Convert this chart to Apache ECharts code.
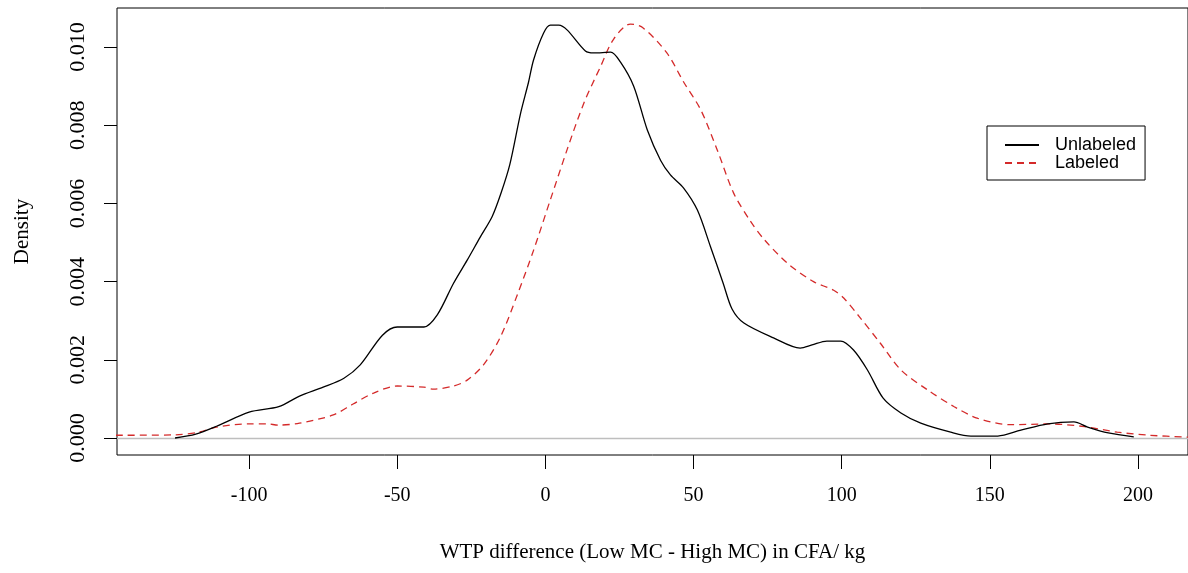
<!DOCTYPE html>
<html>
<head>
<meta charset="utf-8">
<script src="https://cdn.jsdelivr.net/npm/echarts@6/dist/echarts.min.js"></script>
<style>
  html, body { margin: 0; padding: 0; background: #fff; }
  #chart { width: 1188px; height: 573px; }
</style>
</head>
<body>
<div id="chart"></div>
<script>
// density estimates: [x, density]
const unlabeled = [
  [-125, 0.0000], [-118, 0.0001], [-111, 0.0003], [-100, 0.00066], [-90, 0.0008],
  [-83, 0.00107], [-75, 0.0013], [-68, 0.00153], [-62.5, 0.00187], [-55, 0.00263],
  [-50, 0.00284], [-41, 0.00284], [-36.5, 0.00315], [-31, 0.00396], [-26.4, 0.00455],
  [-22, 0.00514], [-18, 0.00566], [-15, 0.00626], [-12, 0.0070], [-8.4, 0.0083],
  [-5.7, 0.0091], [-4, 0.00967], [-0.6, 0.01036], [1.7, 0.01056], [4.5, 0.01056],
  [7.3, 0.01044], [13.5, 0.0099], [16.3, 0.00985], [22, 0.00987], [25.3, 0.00962],
  [29.8, 0.0090], [34.4, 0.00788], [38.9, 0.0071], [42.2, 0.00673], [46.6, 0.0064],
  [51.3, 0.00583], [55.7, 0.0049], [60, 0.00396], [63, 0.0033], [67, 0.00294],
  [77, 0.00256], [86, 0.0023], [90, 0.00238], [95, 0.00248], [99.7, 0.00248],
  [104, 0.00225], [108.7, 0.00174], [114, 0.00102], [120, 0.00064], [126.7, 0.00038],
  [136.8, 0.00015], [143.6, 0.00005], [152.7, 0.00005], [160.5, 0.0002], [169.6, 0.00036],
  [178.4, 0.00041], [183, 0.00028], [190, 0.00013], [198.6, 0.00003]
];
const labeled = [
  [-145, 0.00007], [-125, 0.00008], [-117, 0.00015], [-111, 0.00028], [-100, 0.00036],
  [-94, 0.00036], [-90, 0.00033], [-83, 0.00038], [-71.6, 0.00059], [-64.9, 0.00087],
  [-58, 0.00115], [-50, 0.00133], [-41, 0.0013], [-37.8, 0.00125], [-31, 0.00133],
  [-26.4, 0.00148], [-20.9, 0.00187], [-15.2, 0.00258], [-9.5, 0.00366], [-4, 0.0048],
  [1.7, 0.0061], [7.3, 0.00737], [13, 0.00857], [18.6, 0.0095], [23, 0.0102],
  [28.7, 0.01059], [33, 0.01049], [41, 0.00985], [46.7, 0.0091], [52.4, 0.0084],
  [58, 0.00737], [63.5, 0.00627], [69, 0.00557], [73.6, 0.0051], [81.7, 0.00447],
  [90.5, 0.0040], [97.3, 0.00378], [100.7, 0.00358], [106, 0.0031], [113, 0.00243],
  [120, 0.00174], [129, 0.00123], [138, 0.0008], [146, 0.0005], [157, 0.00034],
  [170.6, 0.00036], [182, 0.00029], [193, 0.00015], [204, 0.00007], [217, 0.00002]
];
const xTicks = [-100, -50, 0, 50, 100, 150, 200];
const yTicks = [0, 0.002, 0.004, 0.006, 0.008, 0.010];
const seriesNames = ['Unlabeled', 'Labeled'];

const serif = 'Liberation Serif';
const chart = echarts.init(document.getElementById('chart'));

chart.setOption({
  animation: false,
  grid: {
    left: 117, right: 0, top: 8, bottom: 118,
    show: true, borderColor: '#000', borderWidth: 1
  },
  legend: {
    orient: 'vertical',
    left: 987, top: 126,
    padding: [10, 9, 8, 17],
    itemGap: 0,
    itemWidth: 34,
    itemHeight: 12,
    borderColor: '#000',
    borderWidth: 1,
    itemStyle: { opacity: 0 },
    data: seriesNames,
    textStyle: {
      fontFamily: 'Liberation Sans', fontSize: 18, lineHeight: 17,
      color: '#000', padding: [0, 0, 0, 11]
    }
  },
  xAxis: {
    type: 'value',
    min: -144.6, max: 216.9,
    name: 'WTP difference (Low MC - High MC) in CFA/ kg',
    nameLocation: 'middle',
    nameGap: 87,
    nameTextStyle: { fontFamily: serif, fontSize: 21, color: '#000' },
    axisLine: { show: false, onZero: false },
    axisTick: { show: true, length: 14, customValues: xTicks, lineStyle: { color: '#000' } },
    axisLabel: { customValues: xTicks, margin: 31, fontFamily: serif, fontSize: 20, color: '#000' },
    splitLine: { show: false }
  },
  yAxis: {
    type: 'value',
    min: -0.000435, max: 0.011,
    name: 'Density',
    nameLocation: 'middle',
    nameRotate: 90,
    nameGap: 84,
    nameTextStyle: { fontFamily: serif, fontSize: 21, color: '#000' },
    axisLine: { show: false, onZero: false },
    axisTick: { show: true, length: 13, customValues: yTicks, lineStyle: { color: '#000' } },
    axisLabel: {
      customValues: yTicks, rotate: 90, margin: 28,
      fontFamily: serif, fontSize: 22, color: '#000',
      formatter: v => v.toFixed(3)
    },
    splitLine: { show: false }
  },
  series: [
    {
      name: seriesNames[0],
      type: 'line',
      data: unlabeled,
      smooth: 0.3,
      symbol: 'none',
      lineStyle: { color: '#000', width: 1.3 },
      itemStyle: { color: '#000' },
      z: 3,
      markLine: {
        silent: true,
        symbol: 'none',
        label: { show: false },
        lineStyle: { color: '#bebebe', type: 'solid', width: 1.3 },
        data: [{ yAxis: 0 }],
        z: 1
      }
    },
    {
      name: seriesNames[1],
      type: 'line',
      data: labeled,
      smooth: 0.3,
      symbol: 'none',
      lineStyle: { color: '#d42a2a', width: 1.3, type: [7, 5] },
      itemStyle: { color: '#d42a2a' },
      z: 2
    }
  ]
});
</script>
</body>
</html>
